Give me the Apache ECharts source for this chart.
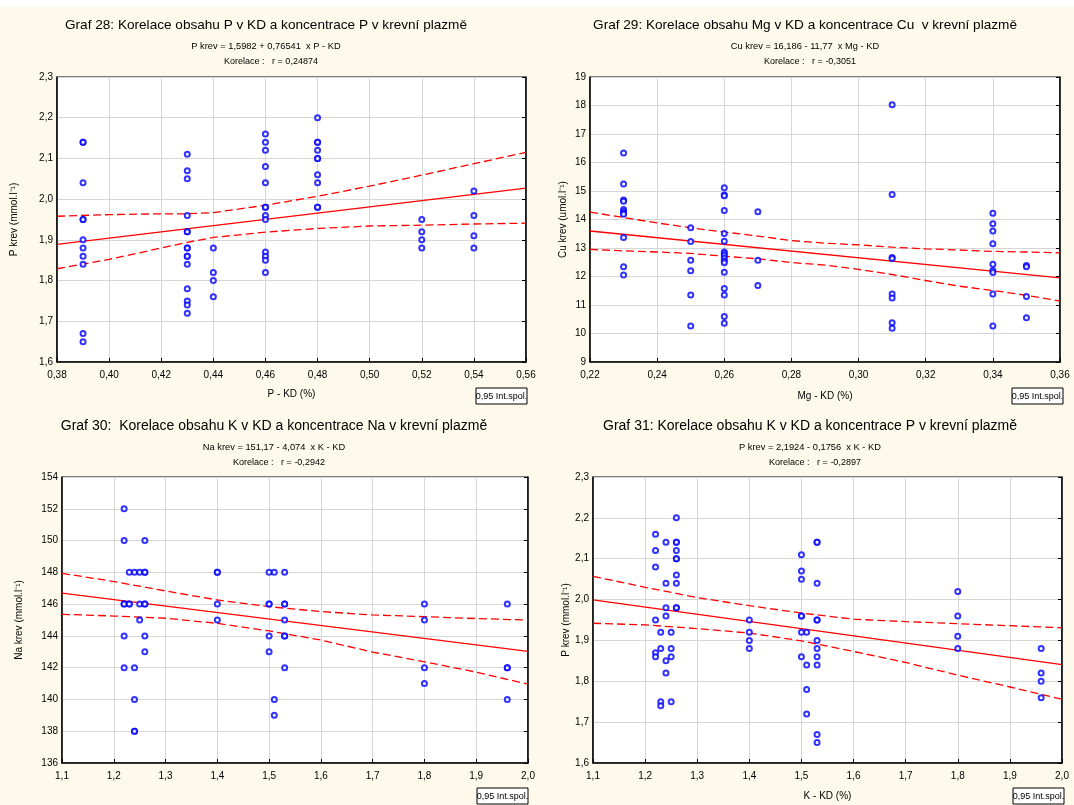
<!DOCTYPE html>
<html>
<head>
<meta charset="utf-8">
<script src="https://cdn.jsdelivr.net/npm/echarts@6/dist/echarts.min.js"></script>
<style>
html,body{margin:0;padding:0;background:#ffffff;}
#chart{width:1074px;height:805px;}
</style>
</head>
<body>
<div id="chart"></div>
<script>
// ---------- Graf 28 : P v KD vs P krev ----------
const g28Points = [
[0.39,2.14],[0.39,2.14],[0.39,2.04],[0.39,1.95],[0.39,1.95],[0.39,1.90],[0.39,1.88],[0.39,1.86],[0.39,1.84],[0.39,1.67],[0.39,1.65],
[0.43,2.11],[0.43,2.07],[0.43,2.05],[0.43,1.96],[0.43,1.92],[0.43,1.92],[0.43,1.88],[0.43,1.88],[0.43,1.86],[0.43,1.86],[0.43,1.84],[0.43,1.78],[0.43,1.75],[0.43,1.74],[0.43,1.72],
[0.44,1.88],[0.44,1.82],[0.44,1.80],[0.44,1.76],
[0.46,2.16],[0.46,2.14],[0.46,2.12],[0.46,2.08],[0.46,2.04],[0.46,1.98],[0.46,1.98],[0.46,1.96],[0.46,1.95],[0.46,1.87],[0.46,1.86],[0.46,1.85],[0.46,1.82],
[0.48,2.20],[0.48,2.14],[0.48,2.14],[0.48,2.12],[0.48,2.10],[0.48,2.10],[0.48,2.06],[0.48,2.04],[0.48,1.98],[0.48,1.98],
[0.52,1.95],[0.52,1.92],[0.52,1.90],[0.52,1.88],
[0.54,2.02],[0.54,1.96],[0.54,1.91],[0.54,1.88]
];
const g28Fit = [[0.38,1.889],[0.56,2.027]];
const g28Upper = [[0.38,1.958],[0.40,1.962],[0.42,1.964],[0.43,1.964],[0.44,1.967],[0.46,1.985],[0.48,2.007],[0.50,2.032],[0.52,2.059],[0.54,2.087],[0.56,2.115]];
const g28Lower = [[0.38,1.829],[0.40,1.852],[0.42,1.880],[0.43,1.894],[0.44,1.906],[0.46,1.919],[0.48,1.928],[0.50,1.934],[0.52,1.936],[0.54,1.939],[0.56,1.941]];

// ---------- Graf 29 : Mg v KD vs Cu krev ----------
const g29Points = [
[0.23,16.33],[0.23,15.25],[0.23,14.68],[0.23,14.64],[0.23,14.35],[0.23,14.28],[0.23,14.22],[0.23,14.18],[0.23,13.37],[0.23,12.34],[0.23,12.05],
[0.25,13.71],[0.25,13.23],[0.25,12.57],[0.25,12.20],[0.25,11.35],[0.25,10.26],
[0.26,15.11],[0.26,14.86],[0.26,14.83],[0.26,14.32],[0.26,13.51],[0.26,13.24],[0.26,12.86],[0.26,12.80],[0.26,12.73],[0.26,12.64],[0.26,12.54],[0.26,12.48],[0.26,12.15],[0.26,11.58],[0.26,11.35],[0.26,10.60],[0.26,10.36],
[0.27,14.27],[0.27,12.57],[0.27,11.68],
[0.31,18.03],[0.31,14.88],[0.31,12.67],[0.31,12.63],[0.31,11.39],[0.31,11.25],[0.31,10.38],[0.31,10.18],
[0.34,14.22],[0.34,13.85],[0.34,13.60],[0.34,13.15],[0.34,12.43],[0.34,12.21],[0.34,12.14],[0.34,11.39],[0.34,10.26],
[0.35,12.39],[0.35,12.34],[0.35,11.30],[0.35,10.55]
];
const g29Fit = [[0.22,13.597],[0.36,11.949]];
const g29Upper = [[0.22,14.26],[0.23,14.07],[0.24,13.88],[0.25,13.71],[0.26,13.56],[0.27,13.42],[0.28,13.26],[0.29,13.17],[0.30,13.11],[0.31,13.03],[0.32,12.97],[0.33,12.93],[0.34,12.88],[0.35,12.86],[0.36,12.83]];
const g29Lower = [[0.22,12.95],[0.23,12.90],[0.24,12.86],[0.25,12.81],[0.26,12.71],[0.27,12.62],[0.28,12.49],[0.29,12.40],[0.30,12.25],[0.31,12.07],[0.32,11.86],[0.33,11.66],[0.34,11.51],[0.35,11.34],[0.36,11.14]];

// ---------- Graf 30 : K v KD vs Na krev ----------
const g30Points = [
[1.22,152],[1.22,150],[1.22,146],[1.22,146],[1.22,144],[1.22,142],
[1.23,148],[1.23,146],[1.23,146],
[1.24,148],[1.24,142],[1.24,140],[1.24,138],[1.24,138],
[1.25,148],[1.25,146],[1.25,145],
[1.26,150],[1.26,148],[1.26,148],[1.26,146],[1.26,146],[1.26,144],[1.26,143],
[1.40,148],[1.40,148],[1.40,146],[1.40,145],
[1.50,148],[1.50,146],[1.50,146],[1.50,144],[1.50,143],
[1.51,148],[1.51,140],[1.51,139],
[1.53,148],[1.53,146],[1.53,146],[1.53,145],[1.53,144],[1.53,144],[1.53,142],
[1.80,146],[1.80,145],[1.80,142],[1.80,141],
[1.96,146],[1.96,142],[1.96,142],[1.96,140]
];
const g30Fit = [[1.1,146.69],[2.0,143.02]];
const g30Upper = [[1.1,147.94],[1.2,147.42],[1.3,146.83],[1.4,146.26],[1.5,145.84],[1.6,145.53],[1.7,145.32],[1.8,145.21],[1.9,145.09],[2.0,145.0]];
const g30Lower = [[1.1,145.36],[1.2,145.25],[1.3,145.11],[1.4,144.79],[1.5,144.31],[1.6,143.74],[1.7,142.98],[1.8,142.37],[1.9,141.72],[2.0,140.96]];

// ---------- Graf 31 : K v KD vs P krev ----------
const g31Points = [
[1.22,2.16],[1.22,2.12],[1.22,2.08],[1.22,1.95],[1.22,1.87],[1.22,1.86],
[1.23,1.92],[1.23,1.88],[1.23,1.75],[1.23,1.74],
[1.24,2.14],[1.24,2.04],[1.24,1.98],[1.24,1.96],[1.24,1.85],[1.24,1.82],
[1.25,1.92],[1.25,1.88],[1.25,1.86],[1.25,1.75],
[1.26,2.20],[1.26,2.14],[1.26,2.14],[1.26,2.12],[1.26,2.10],[1.26,2.10],[1.26,2.06],[1.26,2.04],[1.26,1.98],[1.26,1.98],
[1.40,1.95],[1.40,1.92],[1.40,1.90],[1.40,1.88],
[1.50,2.11],[1.50,2.07],[1.50,2.05],[1.50,1.96],[1.50,1.96],[1.50,1.92],[1.50,1.86],
[1.51,1.92],[1.51,1.84],[1.51,1.78],[1.51,1.72],
[1.53,2.14],[1.53,2.14],[1.53,2.04],[1.53,1.95],[1.53,1.95],[1.53,1.90],[1.53,1.88],[1.53,1.86],[1.53,1.84],[1.53,1.67],[1.53,1.65],
[1.80,2.02],[1.80,1.96],[1.80,1.91],[1.80,1.88],
[1.96,1.88],[1.96,1.82],[1.96,1.80],[1.96,1.76]
];
const g31Fit = [[1.1,1.999],[2.0,1.841]];
const g31Upper = [[1.1,2.057],[1.2,2.030],[1.3,2.005],[1.4,1.985],[1.5,1.967],[1.6,1.952],[1.7,1.946],[1.8,1.941],[1.9,1.936],[2.0,1.931]];
const g31Lower = [[1.1,1.942],[1.2,1.938],[1.3,1.929],[1.4,1.918],[1.5,1.899],[1.6,1.873],[1.7,1.846],[1.8,1.815],[1.9,1.786],[2.0,1.756]];

// ---------- texts ----------
const titles = [
  "Graf 28: Korelace obsahu P v KD a koncentrace P v krevní plazmě",
  "Graf 29: Korelace obsahu Mg v KD a koncentrace Cu  v krevní plazmě",
  "Graf 30:  Korelace obsahu K v KD a koncentrace Na v krevní plazmě",
  "Graf 31: Korelace obsahu K v KD a koncentrace P v krevní plazmě"
];
const equations = [
  "P krev = 1,5982 + 0,76541  x P - KD",
  "Cu krev = 16,186 - 11,77  x Mg - KD",
  "Na krev = 151,17 - 4,074  x K - KD",
  "P krev = 2,1924 - 0,1756  x K - KD"
];
const correlations = [
  "Korelace :   r = 0,24874",
  "Korelace :   r = -0,3051",
  "Korelace :   r = -0,2942",
  "Korelace :   r = -0,2897"
];
const xNames = ["P - KD (%)", "Mg - KD (%)", "", "K - KD (%)"];
const yNames = ["P krev (mmol.l\u207B\u00B9)", "Cu krev (umol.l\u207B\u00B9)", "Na krev (mmol.l\u207B\u00B9)", "P krev (mmol.l\u207B\u00B9)"];
const legendText = "0,95 Int.spol.";

const FONT = "'Liberation Sans', Arial, sans-serif";
const CREAM = '#fefaeb';

// panel layout (plot rectangles) and axis settings
const panels = [
  {grid:{left:57, top:77, width:469, height:285}, x:[0.38,0.56,0.02,2], y:[1.6,2.3,0.1,1], xGap:27, yGap:38, tx:266, ty:25, tf:13.6,
   pts:g28Points, fit:g28Fit, up:g28Upper, lo:g28Lower, box:[476,388]},
  {grid:{left:590, top:77, width:470, height:285}, x:[0.22,0.36,0.02,2], y:[9,19,1,0], xGap:29, yGap:22, tx:805, ty:25, tf:13.6,
   pts:g29Points, fit:g29Fit, up:g29Upper, lo:g29Lower, box:[1012,388]},
  {grid:{left:62, top:477, width:466, height:286}, x:[1.1,2.0,0.1,1], y:[136,154,2,0], xGap:28, yGap:38, tx:274, ty:426, tf:14,
   pts:g30Points, fit:g30Fit, up:g30Upper, lo:g30Lower, box:[477,788]},
  {grid:{left:593, top:477, width:469, height:286}, x:[1.1,2.0,0.1,1], y:[1.6,2.3,0.1,1], xGap:28, yGap:21, tx:810, ty:426, tf:14,
   pts:g31Points, fit:g31Fit, up:g31Upper, lo:g31Lower, box:[1013,788]}
];

const grid=[], xAxis=[], yAxis=[], series=[], graphic=[];
const fmt = d => v => v.toFixed(d).replace('.', ',');
const txt = {color:'#000', fontFamily:FONT, fontSize:10};

// backgrounds
graphic.push({type:'rect', shape:{x:0,y:7,width:1074,height:798}, style:{fill:CREAM}, z:-10, silent:true});

panels.forEach((p, i) => {
  grid.push(Object.assign({show:true, backgroundColor:'#ffffff', borderColor:'#000', borderWidth:1}, p.grid));
  xAxis.push({
    gridIndex:i, type:'value', min:p.x[0], max:p.x[1], interval:p.x[2],
    axisLine:{show:true, onZero:false, lineStyle:{color:'#000', width:1.5}},
    axisTick:{show:true, inside:true, length:4, lineStyle:{color:'#000'}},
    axisLabel:Object.assign({formatter:fmt(p.x[3]), margin:8, showMaxLabel:true, showMinLabel:true}, txt),
    splitLine:{show:true, lineStyle:{color:'#d6d6d6', width:1}},
    name:xNames[i], nameLocation:'middle', nameGap:p.xGap, nameTextStyle:txt
  });
  yAxis.push({
    gridIndex:i, type:'value', min:p.y[0], max:p.y[1], interval:p.y[2], position:'left',
    axisLine:{show:true, onZero:false, lineStyle:{color:'#000', width:1.5}},
    axisTick:{show:false},
    axisLabel:Object.assign({formatter:fmt(p.y[3]), margin:4, showMaxLabel:true, showMinLabel:true}, txt),
    splitLine:{show:true, lineStyle:{color:'#d6d6d6', width:1}},
    name:yNames[i], nameLocation:'middle', nameGap:p.yGap, nameRotate:90, nameTextStyle:txt
  });
  yAxis.push({
    gridIndex:i, type:'value', min:p.y[0], max:p.y[1], interval:p.y[2], position:'right',
    axisLine:{show:true, onZero:false, lineStyle:{color:'#000', width:1.5}},
    axisTick:{show:true, inside:true, length:4, lineStyle:{color:'#000'}},
    axisLabel:{show:false}, splitLine:{show:false}
  });
  const yi = 2*i;
  series.push({type:'line', xAxisIndex:i, yAxisIndex:yi, data:p.up, showSymbol:false, symbol:'none', silent:true, z:3,
    lineStyle:{color:'#ff0000', width:1.3, type:[8,4]}});
  series.push({type:'line', xAxisIndex:i, yAxisIndex:yi, data:p.lo, showSymbol:false, symbol:'none', silent:true, z:3,
    lineStyle:{color:'#ff0000', width:1.3, type:[8,4]}});
  series.push({type:'line', xAxisIndex:i, yAxisIndex:yi, data:p.fit, showSymbol:false, symbol:'none', silent:true, z:3,
    lineStyle:{color:'#ff0000', width:1.3}});
  series.push({type:'scatter', xAxisIndex:i, yAxisIndex:yi, data:p.pts, symbol:'emptyCircle', symbolSize:5, z:4,
    itemStyle:{color:'#0000ff', borderWidth:1.2}});

  graphic.push({type:'text', x:p.tx, y:p.ty, style:{text:titles[i], fill:'#000', font:p.tf+'px '+FONT, textAlign:'center', textVerticalAlign:'middle'}});
  graphic.push({type:'text', x:p.tx, y:p.ty+21, style:{text:equations[i], fill:'#000', font:'9.3px '+FONT, textAlign:'center', textVerticalAlign:'middle'}});
  graphic.push({type:'text', x:p.tx+5, y:p.ty+37, style:{text:correlations[i], fill:'#000', font:'9px '+FONT, textAlign:'center', textVerticalAlign:'middle'}});
  graphic.push({type:'rect', shape:{x:p.box[0], y:p.box[1], width:51, height:16}, style:{fill:'#ffffff', stroke:'#000', lineWidth:1}});
  graphic.push({type:'text', x:p.box[0]+25.5, y:p.box[1]+8.5, style:{text:legendText, fill:'#000', font:'9px '+FONT, textAlign:'center', textVerticalAlign:'middle'}});
});

const chart = echarts.init(document.getElementById('chart'), null, {renderer:'canvas'});
chart.setOption({backgroundColor:'#ffffff', animation:false, grid, xAxis, yAxis, series, graphic});
</script>
</body>
</html>
